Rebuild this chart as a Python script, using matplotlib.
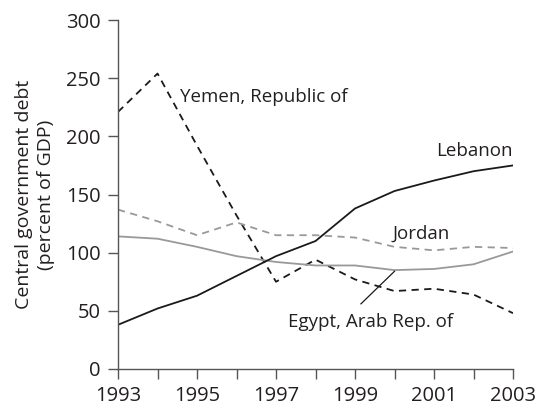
import numpy as np
import matplotlib.pyplot as plt

years = np.arange(1993, 2004)
lebanon = [38, 52, 63, 80, 97, 110, 138, 153, 162, 170, 175]
jordan = [137, 127, 115, 126, 115, 115, 113, 105, 102, 105, 104]
egypt = [114, 112, 105, 97, 92, 89, 89, 85, 86, 90, 101]
yemen = [221, 254, 192, 132, 75, 94, 77, 67, 69, 64, 48]

plt.rcParams['font.family'] = ['Open Sans', 'DejaVu Sans']
txt = '#231f20'

fig = plt.figure(figsize=(5.35, 4.11), dpi=100)
ax = fig.add_axes([0.2206, 0.1022, 0.9589 - 0.2206, 0.9513 - 0.1022])

ax.plot(years, yemen, color='#1a1a1a', lw=1.3, ls=(0, (4, 3)))
ax.plot(years, jordan, color='#999999', lw=1.3, ls=(0, (4, 3)))
ax.plot(years, egypt, color='#999999', lw=1.3)
ax.plot(years, lebanon, color='#1a1a1a', lw=1.3)

fs = 13.5
ax.text(1994.57, 234, 'Yemen, Republic of', fontsize=fs, color=txt, va='center', ha='left')
ax.text(2003, 187.5, 'Lebanon', fontsize=fs, color=txt, va='center', ha='right')
ax.text(1999.96, 116.5, 'Jordan', fontsize=fs, color=txt, va='center', ha='left')
ax.text(1997.3, 40.5, 'Egypt, Arab Rep. of', fontsize=fs, color=txt, va='center', ha='left')
ax.plot([1999.15, 2000.0], [56, 84], color='#1a1a1a', lw=0.9)

ax.set_xlim(1993, 2003)
ax.set_ylim(0, 300)
ax.set_xticks(years)
ax.set_xticklabels([str(y) if (y - 1993) % 2 == 0 else '' for y in years])
ax.set_yticks(np.arange(0, 301, 50))

for s in ['top', 'right']:
    ax.spines[s].set_visible(False)
for s in ['left', 'bottom']:
    ax.spines[s].set_color('#555555')
    ax.spines[s].set_linewidth(1.0)
ax.tick_params(direction='out', length=7.5, width=1.0, color='#555555',
               labelsize=14.5, labelcolor=txt, pad=5)

fig.text(35 / 535, 1 - 194.5 / 411, 'Central government debt\n(percent of GDP)',
         fontsize=14, color=txt, rotation=90, ha='center', va='center',
         multialignment='center', linespacing=1.35)

fig.savefig('out.png', dpi=100)
